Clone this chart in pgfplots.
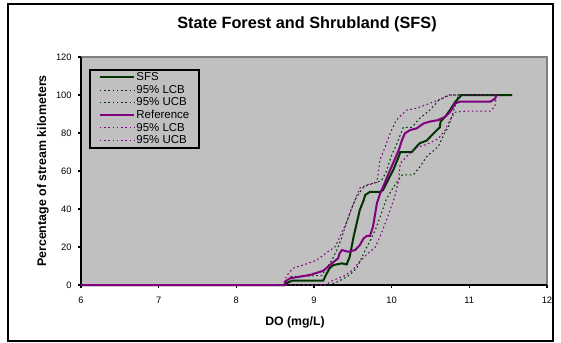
\documentclass[border=0pt]{standalone}
\usepackage{pgfplots}
\pgfplotsset{compat=1.18}
\usepackage{fontspec}
\setmainfont{Liberation Sans}
\definecolor{sfsgreen}{RGB}{0,51,0}
\definecolor{refpurple}{RGB}{128,0,128}
\definecolor{plotbg}{RGB}{192,192,192}
\definecolor{plotborder}{RGB}{128,128,128}
\begin{document}
\begin{tikzpicture}
\useasboundingbox (-60.75pt,-43.5pt) rectangle (360pt,213.75pt);
\draw[black, line width=1.2pt] (-54.75pt,-42pt) rectangle (354pt,210.75pt);
\begin{axis}[
  at={(0pt,0pt)}, anchor=south west,
  scale only axis, width=349.5pt, height=171pt,
  xmin=6, xmax=12, ymin=0, ymax=120,
  xtick={6,7,8,9,10,11,12}, ytick={0,20,40,60,80,100,120},
  axis x line*=bottom, axis y line*=left,
  axis line style={black, line width=1.1pt, -},
  axis background/.style={fill=plotbg, draw=plotborder, line width=0.8pt},
  tick align=outside, major tick length=2.5pt,
  tick style={black, line width=0.8pt},
  ticklabel style={font=\fontsize{7}{8}\selectfont},
  /pgf/number format/assume math mode=true,
  xticklabel style={yshift=-3pt},
  yticklabel style={xshift=-1pt},
  clip=false,
  legend image code/.code={\draw[#1] (0pt,0pt) -- (26pt,0pt);},
  legend style={at={(0.018,0.946)}, anchor=north west, fill=plotbg, draw=black, line width=1pt,
    font=\fontsize{8.6}{9}\selectfont, row sep=0.65pt, inner xsep=6.5pt, inner ysep=1.2pt,
    nodes={inner xsep=0.8pt, inner ysep=0pt, text height=6.8pt, text depth=2pt}},
  legend cell align=left,
]
\addplot[sfsgreen, line width=1.5pt] coordinates {
(6,0) (8.62,0) (8.65,1) (8.72,2.3) (9.12,2.3) (9.15,5) (9.2,8.8) (9.25,10.5) (9.36,11.4) (9.42,10.8)
(9.46,14.9) (9.51,25.4) (9.55,32.5) (9.59,39.5) (9.64,44.7) (9.66,47.4) (9.72,49) (9.85,49) (9.89,50)
(9.95,55) (10.02,60.5) (10.09,67.5) (10.11,70) (10.26,70) (10.32,72.8) (10.36,74.6) (10.45,76)
(10.54,79.8) (10.62,83) (10.63,86) (10.69,88.6) (10.75,92) (10.82,96.5) (10.9,100) (11.55,100)};
\addlegendentry{SFS}
\addplot[sfsgreen, line width=0.8pt, dash pattern=on 1.2pt off 2pt] coordinates {
(6,0) (9.2,0) (9.31,1.8) (9.45,5) (9.55,8.8) (9.61,14) (9.68,20) (9.74,24.6) (9.8,30) (9.87,38)
(9.93,45) (10.0,50) (10.08,55) (10.14,58) (10.28,58) (10.36,62) (10.45,67.5) (10.49,69) (10.6,72.8)
(10.69,80.7) (10.73,83) (10.82,94.7) (10.86,100) (11.55,100)};
\addlegendentry{95\% LCB}
\addplot[sfsgreen, line width=0.8pt, dash pattern=on 1.2pt off 2pt] coordinates {
(6,0) (8.6,0) (8.65,2) (8.7,4.4) (9.1,5) (9.16,8.8) (9.23,13) (9.3,19) (9.35,24) (9.42,33) (9.48,40)
(9.55,46.5) (9.64,51.7) (9.76,53.5) (9.87,55) (9.93,59.6) (10.0,68.4) (10.06,73.7) (10.15,83)
(10.26,83) (10.36,87.7) (10.49,92) (10.6,97) (10.73,100) (11.55,100)};
\addlegendentry{95\% UCB}
\addplot[refpurple, line width=1.5pt] coordinates {
(6,0) (8.62,0) (8.63,1.8) (8.69,3.5) (8.82,4.4) (8.95,5.3) (9.12,7.5) (9.23,11.4) (9.31,14)
(9.33,16.7) (9.36,18.4) (9.44,17.5) (9.53,18.4) (9.59,21) (9.64,24.6) (9.68,25.8) (9.72,25.8)
(9.76,30.7) (9.81,43) (9.85,48) (9.89,51.7) (9.98,60.5) (10.06,68) (10.1,72) (10.13,76) (10.17,79.8)
(10.24,81.6) (10.32,82.4) (10.41,85) (10.49,86) (10.6,86.8) (10.69,88.6) (10.75,91) (10.82,95.6)
(10.88,96.5) (11.27,96.5) (11.33,98) (11.35,100)};
\addlegendentry{Reference}
\addplot[refpurple, line width=0.8pt, dash pattern=on 1.2pt off 2pt] coordinates {
(6,0) (9.15,0) (9.22,2) (9.4,5) (9.5,8) (9.58,12) (9.68,16) (9.79,20) (9.85,25.4) (9.96,37)
(10.04,46.5) (10.09,55) (10.11,64) (10.2,68) (10.3,72) (10.45,74) (10.6,77) (10.69,81.6)
(10.75,86.8) (10.82,91) (10.95,91.5) (11.27,91.5) (11.33,94) (11.35,100)};
\addlegendentry{95\% LCB}
\addplot[refpurple, line width=0.8pt, dash pattern=on 1.2pt off 2pt] coordinates {
(6,0) (8.6,0) (8.65,5) (8.73,8.8) (8.86,10.5) (9.03,13) (9.18,17.5) (9.27,20) (9.33,25) (9.42,33)
(9.51,43) (9.59,51) (9.7,53) (9.81,54) (9.85,66) (9.91,72) (9.98,79.8) (10.06,86.8) (10.19,92)
(10.32,93) (10.49,95.6) (10.64,98) (10.75,100) (11.35,100)};
\addlegendentry{95\% UCB}
\end{axis}
\node[font=\bfseries\fontsize{12.2}{14}\selectfont] at (169.5pt,195.75pt) {State Forest and Shrubland (SFS)};
\node[font=\bfseries\fontsize{9.2}{11}\selectfont] at (160.5pt,-27.75pt) {DO (mg/L)};
\node[font=\bfseries\fontsize{9.3}{11}\selectfont, rotate=90] at (-28.5pt,85.5pt) {Percentage of stream kilometers};
\end{tikzpicture}
\end{document}
